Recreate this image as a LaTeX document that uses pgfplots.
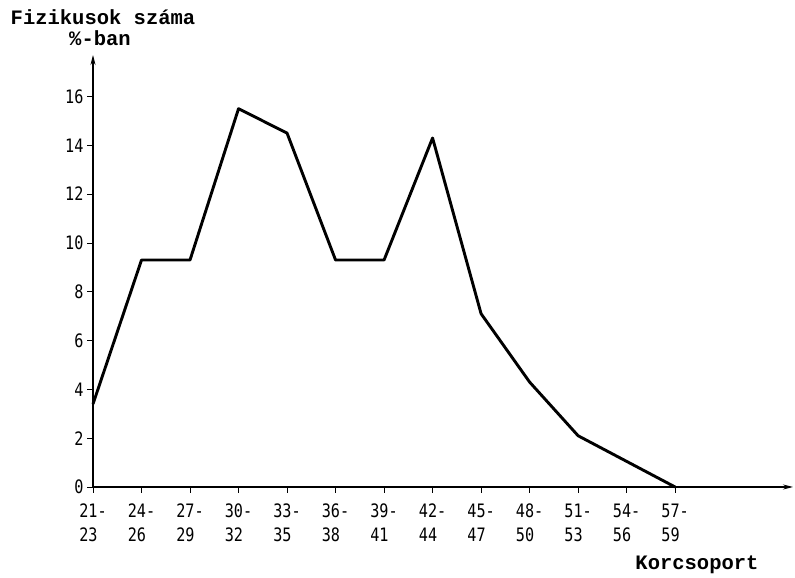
\documentclass[border=0pt]{standalone}
\usepackage{fontspec}
\setmainfont{Liberation Mono}
\newfontfamily\tickfont[FakeStretch=0.82]{DejaVu Sans Mono}
\usepackage{pgfplots}
\pgfplotsset{compat=1.18}
\usetikzlibrary{arrows.meta}
\begin{document}
\begin{tikzpicture}[x=1pt,y=1pt]
\useasboundingbox (0,0) rectangle (795,578);
\begin{axis}[
  at={(93pt,91pt)}, anchor=south west,
  scale only axis, width=700pt, height=432pt,
  xmin=0, xmax=14.43, ymin=0, ymax=17.7,
  axis lines=left,
  axis line style={line width=1.2pt, -{Stealth[length=10pt,width=5pt]}},
  xtick={0,...,12},
  xticklabels={{21-\\23},{24-\\26},{27-\\29},{30-\\32},{33-\\35},{36-\\38},{39-\\41},{42-\\44},{45-\\47},{48-\\50},{51-\\53},{54-\\56},{57-\\59}},
  ytick={0,2,...,16},
  tick align=outside,
  major tick length=6pt,
  tick style={black, line width=0.8pt},
  xticklabel style={align=left, font=\tickfont\fontsize{18.5}{24}\selectfont, yshift=-7pt},
  yticklabel style={font=\tickfont\fontsize{18.5}{20}\selectfont},
  /pgf/number format/assume math mode=true,
  clip=false,
]
\addplot[black, line width=2.9pt, line join=round] coordinates {
(0,3.4) (1,9.3) (2,9.3) (3,15.5) (4,14.5) (5,9.3) (6,9.3) (7,14.3) (8,7.1) (9,4.3) (10,2.1) (11,1.05) (12,0)
};
\end{axis}
\node[font=\bfseries\fontsize{20.5}{24}\selectfont, inner sep=0pt] at (103,561) {Fizikusok száma};
\node[font=\bfseries\fontsize{20.5}{24}\selectfont, inner sep=0pt] at (100,540) {\%-ban};
\node[font=\bfseries\fontsize{20.5}{24}\selectfont, inner sep=0pt] at (697,13) {Korcsoport};
\end{tikzpicture}
\end{document}
